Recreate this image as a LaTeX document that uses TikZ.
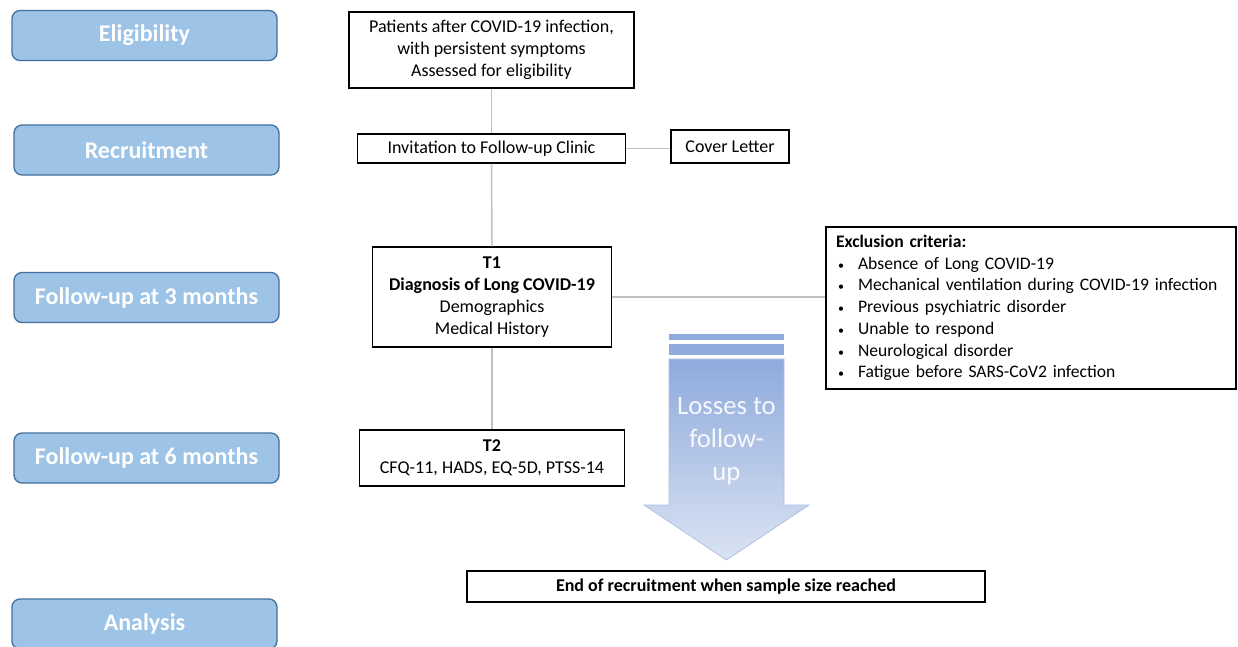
\documentclass[tikz,border=0pt]{standalone}
\usepackage{fontspec}
\setmainfont{Carlito}
\usetikzlibrary{arrows.meta}
\definecolor{stagefill}{HTML}{9DC3E6}
\definecolor{stageline}{HTML}{41719C}
\definecolor{linkgray}{HTML}{BFBFBF}
\definecolor{arrowtop}{HTML}{8FAADC}
\definecolor{arrowbot}{HTML}{DAE3F3}
\newcommand{\critem}{\hspace*{1.5pt}\makebox[15pt][l]{\small\textbullet}}
\tikzset{
  stage/.style={draw=stageline, line width=1pt, fill=stagefill, rounded corners=6pt,
    minimum width=198.75pt, minimum height=37.5pt, text=white,
    font=\fontsize{18}{20}\selectfont\bfseries},
  box/.style={draw=black, line width=1.1pt, align=center, inner sep=0pt,
    font=\fontsize{13.5}{16.4}\selectfont},
  link/.style={draw=linkgray, line width=1.1pt}
}

\begin{document}
\begin{tikzpicture}[x=0.75pt,y=-0.75pt]
\useasboundingbox[fill=white] (0,0) rectangle (1238,646);
% stages
\node[stage] (sElig) at (144.5,35.5) {Eligibility};
\node[stage] (sRecr) at (146.5,150) {Recruitment};
\node[stage] (sThree) at (146.5,297.5) {Follow-up at 3 months};
\node[stage] (sSix) at (146.5,458) {Follow-up at 6 months};
\node[stage] (sAnal) at (144.5,624) {Analysis};
% boxes
\node[box, minimum width=213.75pt, minimum height=57pt] (elig) at (491.5,50)
  {Patients after COVID-19 infection,\\with persistent symptoms\\Assessed for eligibility};
\node[box, minimum width=201pt, minimum height=21.75pt] (invite) at (491.5,148.5)
  {Invitation to Follow-up Clinic};
\node[box, minimum width=88.5pt, minimum height=24.75pt] (cover) at (730,146.5)
  {Cover Letter};
\node[box, minimum width=179.25pt, minimum height=75pt] (tOne) at (492,297)
  {\textbf{T1}\\\textbf{Diagnosis of Long COVID-19}\\Demographics\\Medical History};
\node[box, minimum width=198.75pt, minimum height=42pt] (tTwo) at (492,458)
  {\textbf{T2}\\CFQ-11, HADS, EQ-5D, PTSS-14};
\node[box, align=left, text width=292.5pt, inner xsep=7.5pt, minimum height=121.5pt,
  font=\fontsize{13.2}{16.3}\selectfont] (excl) at (1031,308)
  {\textbf{Exclusion criteria:}\\
   \critem Absence of Long COVID-19\\
   \critem Mechanical ventilation during COVID-19 infection\\
   \critem Previous psychiatric disorder\\
   \critem Unable to respond\\
   \critem Neurological disorder\\
   \critem Fatigue before SARS-CoV2 infection};
\node[box, minimum width=388.5pt, minimum height=23.25pt] (endRec) at (726,586.5)
  {\textbf{End of recruitment when sample size reached}};
% links
\draw[link] (elig.south) -- (invite.north);
\draw[link] (invite.east) -- (invite.east -| cover.west);
\draw[link] (invite.south) -- (tOne.north);
\draw[link] (tOne.east) -- (tOne.east -| excl.west);
\draw[link] (tOne.south) -- (tTwo.north);
% losses arrow
\fill[arrowtop] (669,334) rectangle (784,340);
\fill[arrowtop] (669,344) rectangle (784,355);
\draw[draw=arrowtop!60!arrowbot, line width=0.6pt, top color=arrowtop, bottom color=arrowbot]
  (669,359) -- (784,359) -- (784,505) -- (809,505) -- (726.5,560) -- (644,505) -- (669,505) -- cycle;
\node[text=white, text opacity=0.9, align=center, font=\fontsize{20}{25}\selectfont] (losses) at (726.5,441)
  {Losses to\\follow-\\up};
\end{tikzpicture}
\end{document}
